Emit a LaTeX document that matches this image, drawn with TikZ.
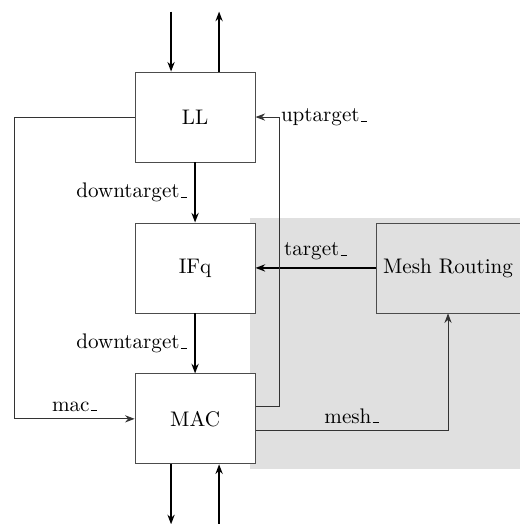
\documentclass[tikz,border=0pt]{standalone}
\usepackage{tikz}
\usetikzlibrary{positioning,arrows.meta,calc,backgrounds}
\definecolor{meshgray}{HTML}{E0E0E0}
\newcommand{\us}{\leavevmode\kern.06em\vbox{\hrule width.3em}}
\tikzset{
  >={Stealth[length=1.6mm,width=1.2mm]},
  layer/.style={draw=black!70, fill=white, minimum width=20mm, minimum height=15mm, align=center},
  sig/.style={font=\normalsize},
  l/.style={->, thick, draw=black},
  t/.style={->, draw=black!80},
}
\begin{document}
\begin{tikzpicture}[node distance=10mm and 20mm]
  \useasboundingbox (-32.5mm,19.5mm) rectangle (54mm,-67.8mm);
  \node[layer] (ll){LL};
  \node[layer,below=of ll] (ifq){IFq};
  \node[layer,below=of ifq] (mac){MAC};
  \node[layer,right=of ifq,minimum width=24mm,fill=meshgray] (mesh){Mesh Routing};
  \begin{scope}[on background layer]
    \fill[meshgray] ($(ifq.north east)+(-1mm,0.7mm)$) rectangle ($(mesh.east |- mac.south)+(0,-0.8mm)$);
  \end{scope}
  % ends outside the picture
  \coordinate (llin) at ($(ll.north)+(-4mm,10mm)$);
  \coordinate (llout) at ($(ll.north)+(4mm,10mm)$);
  \coordinate (macout) at ($(mac.south)+(-4mm,-10mm)$);
  \coordinate (macin) at ($(mac.south)+(4mm,-10mm)$);
  \draw[l](llin) -- (llin |- ll.north); \draw[l](llout |- ll.north) -- (llout);
  \draw[l](macout |- mac.south) -- (macout); \draw[l](macin) -- (macin |- mac.south);
  \draw[l](ll) -- node[sig,left]{downtarget\us} (ifq);
  \draw[l](ifq) -- node[sig,left]{downtarget\us} (mac);
  \draw[l](mesh) -- node[sig,above]{target\us} (ifq);
  \draw[t](ll.west) -- ++(-20mm,0) |- node[sig,pos=0.75,above]{mac\us} (mac.west);
  \draw[t]($(mac.east)+(0,2mm)$) -| ($(ll.east)+(4mm,0)$) node[sig,right,inner sep=0.5pt]{uptarget\us} -- (ll.east);
  \draw[t]($(mac.east)+(0,-2mm)$) -| node[sig,pos=0.25,above]{mesh\us} (mesh.south);
\end{tikzpicture}
\end{document}
